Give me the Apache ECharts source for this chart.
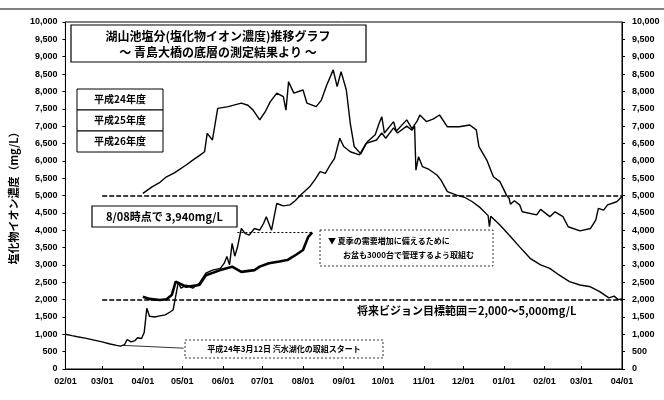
<!DOCTYPE html>
<html><head><meta charset="utf-8">
<script src="https://cdn.jsdelivr.net/npm/echarts@6/dist/echarts.min.js"></script>
<style>html,body{margin:0;padding:0;background:#fff}#c{width:664px;height:400px}</style>
</head><body><div id="c"></div>
<script>
// ---- axis ticks ----
const monthTicks = ['2013-02-01','2013-03-01','2013-04-01','2013-05-01','2013-06-01','2013-07-01','2013-08-01','2013-09-01','2013-10-01','2013-11-01','2013-12-01','2014-01-01','2014-02-01','2014-03-01','2014-04-01'];
const yMin = 0, yMax = 10000, yStep = 500;

// ---- series: 平成24年度 (thin, from Feb) ----
const h24Dates = ['2013-02-01','2013-02-06','2013-02-10','2013-02-16','2013-02-22','2013-03-01','2013-03-07','2013-03-12','2013-03-15','2013-03-18','2013-03-20','2013-03-23','2013-03-26','2013-03-28','2013-03-31','2013-04-02','2013-04-04','2013-04-06','2013-04-10','2013-04-14','2013-04-18','2013-04-22','2013-04-24','2013-04-26','2013-04-28','2013-04-30','2013-05-04','2013-05-09','2013-05-14','2013-05-19','2013-05-24','2013-05-30','2013-06-02','2013-06-04','2013-06-06','2013-06-08','2013-06-10','2013-06-12','2013-06-15','2013-06-18','2013-06-21','2013-06-25','2013-06-29','2013-07-02','2013-07-04','2013-07-08','2013-07-12','2013-07-17','2013-07-22','2013-07-26','2013-07-30','2013-08-06','2013-08-10','2013-08-14','2013-08-18','2013-08-22','2013-08-25','2013-08-29','2013-09-01','2013-09-06','2013-09-13','2013-09-18','2013-09-26','2013-09-30','2013-10-03','2013-10-09','2013-10-12','2013-10-19','2013-10-23','2013-10-25','2013-10-26','2013-10-28','2013-10-31','2013-11-05','2013-11-11','2013-11-14','2013-11-19','2013-11-26','2013-12-02','2013-12-08','2013-12-14','2013-12-20','2013-12-21','2013-12-22','2013-12-29','2014-01-05','2014-01-13','2014-01-21','2014-01-29','2014-02-05','2014-02-12','2014-02-20','2014-02-28','2014-03-08','2014-03-15','2014-03-22','2014-03-26','2014-03-29','2014-04-01'];
const h24Values = [1000,960,930,890,840,780,720,680,660,700,850,780,820,900,880,1050,1750,1520,1500,1530,1560,1650,1700,2100,2500,2330,2420,2330,2470,2760,2850,2900,3050,3240,3000,3620,3250,3500,4050,3900,3860,4050,4000,4200,4390,4000,4770,4700,4730,4850,5010,5250,5450,5690,5640,5900,6070,6650,6410,6260,6170,6500,6600,6800,6650,6950,6800,7000,6880,7000,5730,6120,5830,5750,5590,5450,5110,5010,4950,4820,4650,4420,4100,4400,4150,3860,3520,3190,3000,2900,2710,2520,2420,2370,2230,2050,2100,2000,2020];

// ---- series: 平成25年度 (top line) ----
const h25Dates = ['2013-04-01','2013-04-08','2013-04-14','2013-04-19','2013-04-25','2013-05-04','2013-05-09','2013-05-14','2013-05-18','2013-05-20','2013-05-24','2013-05-28','2013-06-05','2013-06-15','2013-06-20','2013-06-24','2013-06-29','2013-07-03','2013-07-07','2013-07-12','2013-07-17','2013-07-19','2013-07-21','2013-07-25','2013-08-01','2013-08-04','2013-08-11','2013-08-15','2013-08-19','2013-08-24','2013-08-27','2013-08-30','2013-09-03','2013-09-06','2013-09-09','2013-09-14','2013-09-19','2013-09-25','2013-09-28','2013-09-30','2013-10-02','2013-10-09','2013-10-11','2013-10-19','2013-10-23','2013-10-27','2013-10-29','2013-11-03','2013-11-08','2013-11-13','2013-11-19','2013-11-28','2013-12-06','2013-12-11','2013-12-13','2013-12-19','2013-12-24','2013-12-29','2014-01-03','2014-01-05','2014-01-06','2014-01-09','2014-01-13','2014-01-15','2014-01-26','2014-01-29','2014-02-05','2014-02-09','2014-02-15','2014-02-19','2014-02-28','2014-03-08','2014-03-12','2014-03-14','2014-03-18','2014-03-21','2014-03-28','2014-04-01'];
const h25Values = [5060,5250,5380,5540,5650,5880,6020,6150,6260,6790,6600,7510,7560,7660,7600,7460,7180,7400,7700,7950,7850,7460,8280,7950,8040,7660,7560,7750,8180,8620,8140,8570,8040,7080,6410,6200,6550,6750,7080,7270,6800,7130,6850,7180,6930,7150,7320,7130,7200,7320,6980,6980,7030,6890,6410,6020,5540,5400,5010,4920,4750,4850,4730,4530,4440,4600,4390,4530,4390,4100,3980,4050,4290,4630,4580,4730,4820,4970];

// ---- series: 平成26年度 (thick, ends 8/08) ----
const h26Dates = ['2013-04-01','2013-04-06','2013-04-14','2013-04-19','2013-04-23','2013-04-26','2013-05-04','2013-05-14','2013-05-19','2013-05-30','2013-06-08','2013-06-15','2013-06-25','2013-06-29','2013-07-06','2013-07-14','2013-07-20','2013-07-27','2013-08-01','2013-08-05','2013-08-08'];
const h26Values = [2080,2020,1990,2010,2130,2520,2370,2420,2700,2850,2950,2800,2850,2950,3050,3100,3140,3300,3430,3810,3940];

// ---- reference lines / annotations (data coords) ----
const targetHigh = 5000, targetLow = 2000, targetStart = '2013-03-01', axisEnd = '2014-04-01';
const latestLineStart = '2013-06-12';
const startLeader = [['2013-03-17', 680], ['2013-05-02', 600]];

function t(s){const p=s.split('-');return Date.UTC(+p[0],+p[1]-1,+p[2]);}
function zip(d,v){return d.map((x,i)=>[t(x),v[i]]);}
function comma(v){return String(v).replace(/\B(?=(\d{3})+(?!\d))/g, ',');}
const FONT = '"Noto Sans CJK JP","Noto Sans",sans-serif';
const NUMF = '"Liberation Sans","DejaVu Sans",sans-serif';

const chart = echarts.init(document.getElementById('c'), null, {renderer:'canvas'});
const tickVals = monthTicks.map(t);
const yAxisCommon = {
  type:'value', min:yMin, max:yMax, interval:yStep,
  axisLine:{show:true, lineStyle:{color:'#000', width:1}},
  axisTick:{show:true, length:3, lineStyle:{color:'#000'}},
  splitLine:{show:false},
  axisLabel:{color:'#000', fontSize:9, fontWeight:'bold', fontFamily:NUMF, formatter:comma, margin:8}
};
const option = {
  backgroundColor:'#fff',
  animation:false,
  grid:{left:65, right:42, top:22, bottom:31, show:true, borderColor:'#000', borderWidth:1},
  xAxis:{
    type:'value', min:t(monthTicks[0]), max:t(monthTicks[monthTicks.length-1]),
    axisLine:{show:true, lineStyle:{color:'#000', width:1}},
    splitLine:{show:false},
    axisTick:{show:true, customValues:tickVals, length:3, inside:true, lineStyle:{color:'#000'}},
    axisLabel:{customValues:tickVals, color:'#000', fontSize:9, fontWeight:'bold', fontFamily:NUMF, margin:8,
      formatter:v=>{const d=new Date(v);return String(d.getUTCMonth()+1).padStart(2,'0')+'/'+String(d.getUTCDate()).padStart(2,'0');}}
  },
  yAxis:[
    Object.assign({}, yAxisCommon, {position:'left',
      name:'塩化物イオン濃度（mg/L）', nameLocation:'middle', nameRotate:90, nameGap:46,
      nameTextStyle:{color:'#000', fontSize:11, fontWeight:'bold', fontFamily:FONT}}),
    Object.assign({}, yAxisCommon, {position:'right', axisLabel:Object.assign({}, yAxisCommon.axisLabel, {margin:10})})
  ],
  series:[
    {name:'平成24年度', type:'line', data:zip(h24Dates,h24Values), showSymbol:false, lineStyle:{color:'#000', width:1.4}, z:3,
      markLine:{silent:true, symbol:'none', label:{show:false},
        data:[
          [{coord:[t(targetStart),targetHigh]},{coord:[t(axisEnd),targetHigh]}],
          [{coord:[t(targetStart),targetLow]},{coord:[t(axisEnd),targetLow]}],
          [{coord:[t(startLeader[0][0]),startLeader[0][1]], lineStyle:{type:'solid', width:0.8}},{coord:[t(startLeader[1][0]),startLeader[1][1]]}]
        ],
        lineStyle:{color:'#000', type:[5,2], width:1.5}}},
    {name:'平成25年度', type:'line', data:zip(h25Dates,h25Values), showSymbol:false, lineStyle:{color:'#000', width:1.4}, z:3},
    {name:'平成26年度', type:'line', data:zip(h26Dates,h26Values), showSymbol:false, lineStyle:{color:'#000', width:2.6}, z:4,
      markLine:{silent:true, symbol:'none', label:{show:false},
        data:[[{coord:[t(latestLineStart),h26Values[h26Values.length-1]]},{coord:[t(h26Dates[h26Dates.length-1]),h26Values[h26Values.length-1]]}]],
        lineStyle:{color:'#000', type:[2,2], width:1}}}
  ],
  graphic:[
    {type:'line', shape:{x1:0,y1:9,x2:664,y2:9}, style:{stroke:'#000', lineWidth:1}},
    // title box
    {type:'rect', shape:{x:71,y:25,width:295,height:37}, style:{fill:'#fff', stroke:'#000', lineWidth:1.2}, z:10},
    {type:'text', x:218, y:36, style:{text:'湖山池塩分(塩化物イオン濃度)推移グラフ', font:'bold 12px '+FONT, fill:'#000', align:'center', verticalAlign:'middle'}, z:11},
    {type:'text', x:218, y:52, style:{text:'～ 青島大橋の底層の測定結果より ～', font:'bold 12px '+FONT, fill:'#000', align:'center', verticalAlign:'middle'}, z:11},
    // year boxes
    {type:'rect', shape:{x:77,y:89,width:86,height:21}, style:{fill:'#fff', stroke:'#000', lineWidth:1}, z:10},
    {type:'text', x:120, y:99.5, style:{text:'平成24年度', font:'bold 10px '+FONT, fill:'#000', align:'center', verticalAlign:'middle'}, z:11},
    {type:'rect', shape:{x:77,y:110,width:86,height:21}, style:{fill:'#fff', stroke:'#000', lineWidth:1}, z:10},
    {type:'text', x:120, y:120.5, style:{text:'平成25年度', font:'bold 10px '+FONT, fill:'#000', align:'center', verticalAlign:'middle'}, z:11},
    {type:'rect', shape:{x:77,y:131,width:86,height:21}, style:{fill:'#fff', stroke:'#000', lineWidth:1}, z:10},
    {type:'text', x:120, y:141.5, style:{text:'平成26年度', font:'bold 10px '+FONT, fill:'#000', align:'center', verticalAlign:'middle'}, z:11},
    // 8/08 box
    {type:'rect', shape:{x:92,y:206,width:145,height:21}, style:{fill:'#fff', stroke:'#000', lineWidth:1.2}, z:10},
    {type:'text', x:164.5, y:216.5, style:{text:'8/08時点で 3,940mg/L', font:'bold 11px '+FONT, fill:'#000', align:'center', verticalAlign:'middle'}, z:11},
    // note box
    {type:'rect', shape:{x:320,y:230,width:173,height:36}, style:{fill:'#fff', stroke:'#000', lineWidth:0.8, lineDash:[2,2]}, z:10},
    {type:'text', x:328, y:241, style:{text:'▼ 夏季の需要増加に備えるために', font:'bold 8px '+FONT, fill:'#000', align:'left', verticalAlign:'middle'}, z:11},
    {type:'text', x:343, y:255, style:{text:'お盆も3000台で管理するよう取組む', font:'bold 8px '+FONT, fill:'#000', align:'left', verticalAlign:'middle'}, z:11},
    // target text
    {type:'text', x:357, y:311, style:{text:'将来ビジョン目標範囲＝2,000～5,000mg/L', font:'bold 11px '+FONT, fill:'#000', align:'left', verticalAlign:'middle'}, z:11},
    // start box
    {type:'rect', shape:{x:185,y:340,width:198,height:18}, style:{fill:'#fff', stroke:'#000', lineWidth:0.8, lineDash:[2,2]}, z:10},
    {type:'text', x:284, y:349, style:{text:'平成24年3月12日 汽水湖化の取組スタート', font:'bold 8px '+FONT, fill:'#000', align:'center', verticalAlign:'middle'}, z:11}
  ]
};
chart.setOption(option);
</script></body></html>
